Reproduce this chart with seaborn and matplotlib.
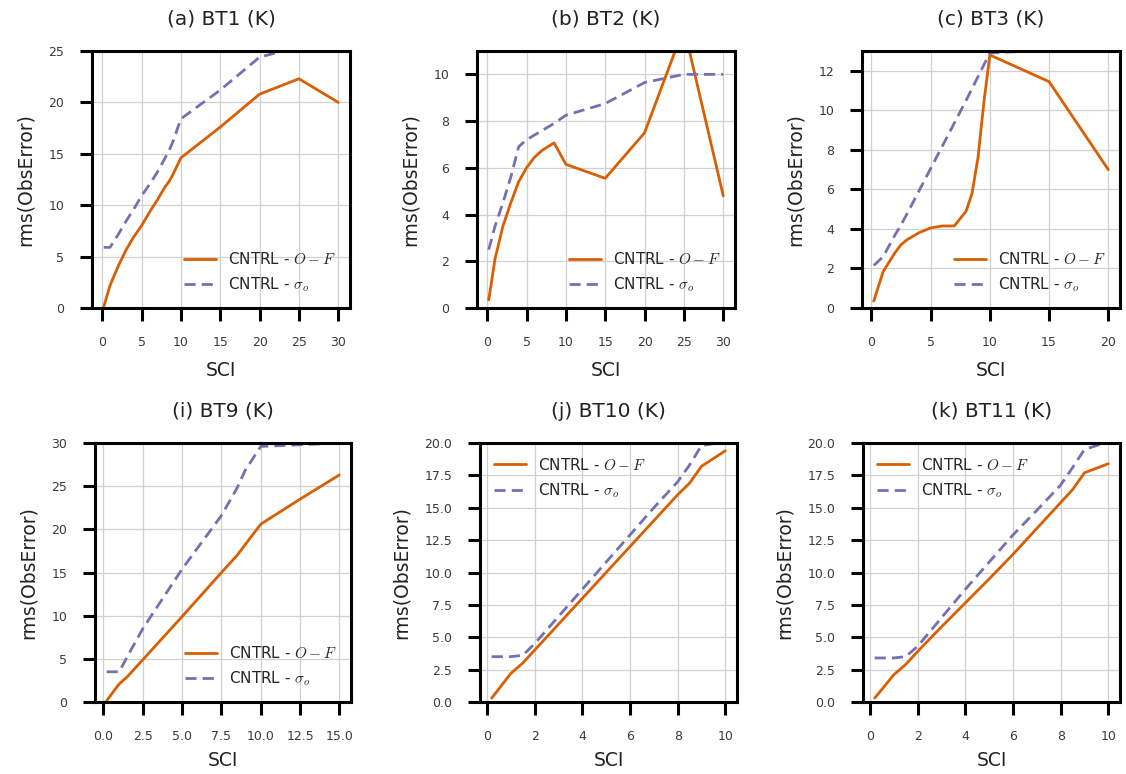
import matplotlib
matplotlib.use("Agg")
import matplotlib.pyplot as plt
import numpy as np
import pandas as pd
import seaborn as sns

# ---- data: rms of observation error vs SCI for each channel ----
sci_bt1 = [0.2, 1, 2, 3, 4, 5, 6, 7, 8, 8.5, 9, 10, 15, 20, 25, 30]
omf_bt1 = [0.1, 2.2, 4.0, 5.6, 6.9, 8.0, 9.3, 10.5, 11.8, 12.3, 13.0, 14.6, 17.6, 20.8, 22.3, 20.0]
sig_bt1 = [5.9, 5.9, 7.1, 8.4, 9.6, 10.9, 12.0, 13.2, 14.6, 15.3, 16.2, 18.4, 21.2, 24.4, 25.4, 25.8]

sci_bt2 = [0.2, 1, 2, 3, 4, 5, 6, 7, 8.5, 10, 15, 20, 25, 30]
omf_bt2 = [0.35, 2.1, 3.5, 4.5, 5.4, 6.0, 6.45, 6.75, 7.07, 6.15, 5.55, 7.5, 12.0, 4.8]
sig_bt2 = [2.5, 3.5, 4.5, 5.6, 6.9, 7.2, 7.4, 7.6, 7.9, 8.25, 8.75, 9.65, 10.0, 10.0]

sci_bt3 = [0.2, 1, 2, 2.5, 3, 4, 5, 6, 7, 8, 8.5, 9, 9.5, 10, 15, 20]
omf_bt3 = [0.35, 1.85, 2.8, 3.2, 3.45, 3.8, 4.05, 4.15, 4.15, 4.9, 5.8, 7.6, 10.4, 12.8, 11.45, 7.0]
sig_bt3 = [2.15, 2.6, 3.7, 4.2, 4.75, 5.9, 7.05, 8.2, 9.35, 10.5, 11.1, 11.7, 12.3, 12.9, 13.05, 13.1]

sci_bt9 = [0.2, 1, 1.5, 2.5, 5, 7.5, 8.5, 9, 10, 12.5, 15]
omf_bt9 = [0.15, 2.1, 2.9, 4.9, 9.9, 15.0, 17.0, 18.2, 20.6, 23.5, 26.3]
sig_bt9 = [3.5, 3.5, 5.2, 8.5, 15.4, 21.6, 24.8, 26.8, 29.6, 29.8, 30.0]

sci_bt10 = [0.2, 1, 1.5, 2, 3, 4, 5, 6, 7, 8, 8.5, 9, 10]
omf_bt10 = [0.3, 2.2, 3.0, 4.0, 6.0, 8.0, 10.0, 12.0, 14.0, 16.0, 16.9, 18.2, 19.4]
sig_bt10 = [3.5, 3.5, 3.6, 4.5, 6.6, 8.7, 10.8, 12.9, 15.0, 17.0, 18.3, 19.8, 20.1]

sci_bt11 = [0.2, 1, 1.5, 2, 3, 4, 5, 6, 7, 8, 8.5, 9, 10]
omf_bt11 = [0.3, 2.1, 2.9, 3.9, 5.8, 7.65, 9.5, 11.4, 13.4, 15.4, 16.4, 17.7, 18.4]
sig_bt11 = [3.4, 3.4, 3.5, 4.3, 6.5, 8.7, 10.8, 12.9, 14.8, 16.75, 18.1, 19.5, 20.1]

titles = ["(a) BT1 (K)", "(b) BT2 (K)", "(c) BT3 (K)",
          "(i) BT9 (K)", "(j) BT10 (K)", "(k) BT11 (K)"]
label_omf = r"CNTRL - $O-F$"
label_sig = r"CNTRL - $\sigma_o$"

panels = [
    (sci_bt1, omf_bt1, sig_bt1, (0, 25), np.arange(0, 26, 5), np.arange(0, 31, 5), "lower right"),
    (sci_bt2, omf_bt2, sig_bt2, (0, 11), np.arange(0, 11, 2), np.arange(0, 31, 5), "lower right"),
    (sci_bt3, omf_bt3, sig_bt3, (0, 13), np.arange(0, 13, 2), np.arange(0, 21, 5), "lower right"),
    (sci_bt9, omf_bt9, sig_bt9, (0, 30), np.arange(0, 31, 5), np.arange(0, 15.1, 2.5), "lower right"),
    (sci_bt10, omf_bt10, sig_bt10, (0, 20), np.arange(0, 20.1, 2.5), np.arange(0, 11, 2), "upper left"),
    (sci_bt11, omf_bt11, sig_bt11, (0, 20), np.arange(0, 20.1, 2.5), np.arange(0, 11, 2), "upper left"),
]

# axes boxes in figure pixels: left, top, right, bottom
boxes = [
    (92, 51, 350, 308), (477, 51, 735, 308), (862, 51, 1120, 308),
    (95, 443, 351, 702), (480, 443, 737, 702), (863, 443, 1120, 702),
]

sns.set_theme(style="ticks")
plt.rcParams["font.family"] = ["DejaVu Sans"]
plt.rcParams["mathtext.fontset"] = "cm"

pal = sns.color_palette("Dark2")
c_omf = pal[1]
c_sig = pal[2]

W, H = 1126, 774
fig = plt.figure(figsize=(W / 100, H / 100), dpi=100)

for i, ((sci, omf, sig, ylim, yt, xt, loc), box, title) in enumerate(zip(panels, boxes, titles)):
    l, t, r, b = box
    ax = fig.add_axes([l / W, 1 - b / H, (r - l) / W, (b - t) / H])
    df = pd.DataFrame({"SCI": sci, "omf": omf, "sig": sig})
    sns.lineplot(data=df, x="SCI", y="omf", ax=ax, color=c_omf, lw=2.0,
                 label=label_omf)
    sns.lineplot(data=df, x="SCI", y="sig", ax=ax, color=c_sig, lw=2.0,
                 linestyle=(0, (4, 2.2)), label=label_sig)
    ax.set_ylim(*ylim)
    ax.set_yticks(yt)
    ax.set_xticks(xt)
    ax.grid(True, color="#d0d0d0", lw=0.9)
    ax.set_axisbelow(True)
    for sp in ax.spines.values():
        sp.set_linewidth(2.2)
        sp.set_color("black")
    ax.tick_params(axis="both", direction="out", length=9, width=2.2,
                   labelsize=9, labelcolor="#3a3a3a", color="black", pad=11)
    ax.set_title(title, fontsize=14.5, color="#222222", pad=19)
    ax.set_xlabel("SCI", fontsize=13.5, color="#222222",
                  labelpad=9 if i < 3 else 6)
    ax.set_ylabel("rms(ObsError)", fontsize=13.5, color="#222222", labelpad=10)
    ax.legend(loc=loc, frameon=False, fontsize=11, handlelength=2.1,
              labelspacing=0.55)

fig.savefig("out.png", dpi=100)
